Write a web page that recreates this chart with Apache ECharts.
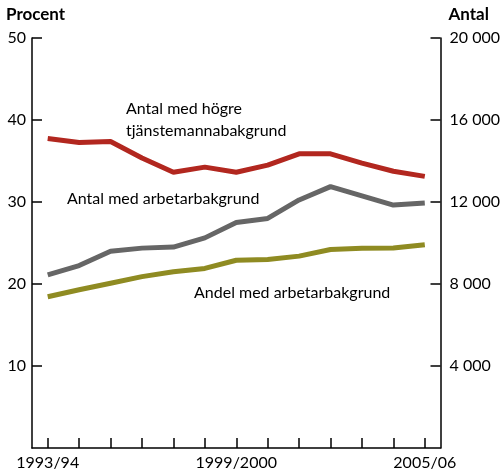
<!DOCTYPE html>
<html><head><meta charset="utf-8">
<script src="https://cdn.jsdelivr.net/npm/echarts@6/dist/echarts.min.js"></script>
<style>html,body{margin:0;padding:0;background:#fff}#c{width:503px;height:472px}</style>
</head><body><div id="c"></div>
<script>
const categories = ['1993/94','1994/95','1995/96','1996/97','1997/98','1998/99','1999/2000','2000/01','2001/02','2002/03','2003/04','2004/05','2005/06'];
const antalHogre = [15100, 14900, 14950, 14150, 13450, 13700, 13450, 13800, 14350, 14350, 13900, 13500, 13250];
const antalArbetar = [8450, 8900, 9600, 9750, 9800, 10250, 11000, 11200, 12100, 12750, 12300, 11850, 11950];
const andelArbetar = [18.45, 19.3, 20.1, 20.9, 21.5, 21.9, 22.9, 23.0, 23.4, 24.2, 24.35, 24.4, 24.8];
const leftTicks = [0, 50, 10];
const rightTicks = [0, 20000, 4000];

const FONT = 'Lato';
const chart = echarts.init(document.getElementById('c'), null, {renderer: 'canvas'});
const axisLine = {show: true, lineStyle: {color: '#000', width: 1.5}};
const tick = {show: true, inside: true, length: 10, lineStyle: {color: '#000', width: 1.5}};
function fmtThousands(v){ return String(v).replace(/\B(?=(\d{3})+(?!\d))/g, ' '); }
chart.setOption({
  animation: false,
  textStyle: {fontFamily: FONT},
  grid: {left: 32, right: 60, top: 38, bottom: 24, containLabel: false},
  xAxis: {
    type: 'category', data: categories, boundaryGap: true,
    axisLine: axisLine,
    axisTick: {show: true, inside: true, length: 10, alignWithLabel: true, interval: 0, lineStyle: {color: '#000', width: 1.5}},
    axisLabel: {interval: 5, color: '#000', fontSize: 16, fontFamily: FONT, margin: 7}
  },
  yAxis: [
    {type: 'value', min: leftTicks[0], max: leftTicks[1], interval: leftTicks[2], position: 'left',
     name: 'Procent', nameLocation: 'end', nameGap: 15,
     nameTextStyle: {fontWeight: 'bold', fontSize: 17, color: '#000', align: 'left', padding: [0,0,0,-26], fontFamily: FONT},
     axisLine: axisLine, axisTick: tick, splitLine: {show: false},
     axisLabel: {showMinLabel: false, color: '#000', fontSize: 16, fontFamily: FONT, margin: 6}},
    {type: 'value', min: rightTicks[0], max: rightTicks[1], interval: rightTicks[2], position: 'right',
     name: 'Antal', nameLocation: 'end', nameGap: 15,
     nameTextStyle: {fontWeight: 'bold', fontSize: 17, color: '#000', align: 'left', padding: [0,0,0,8], fontFamily: FONT},
     axisLine: axisLine, axisTick: tick, splitLine: {show: false},
     axisLabel: {showMinLabel: false, color: '#000', fontSize: 16, fontFamily: FONT, margin: 9, formatter: fmtThousands}}
  ],
  series: [
    {name: 'Antal med högre tjänstemannabakgrund', type: 'line', yAxisIndex: 1, data: antalHogre,
     symbol: 'none', lineStyle: {color: '#b2271f', width: 5}, itemStyle: {color: '#b2271f'}},
    {name: 'Antal med arbetarbakgrund', type: 'line', yAxisIndex: 1, data: antalArbetar,
     symbol: 'none', lineStyle: {color: '#666666', width: 5}, itemStyle: {color: '#666666'}},
    {name: 'Andel med arbetarbakgrund', type: 'line', yAxisIndex: 0, data: andelArbetar,
     symbol: 'none', lineStyle: {color: '#8f8b22', width: 5}, itemStyle: {color: '#8f8b22'}}
  ],
  graphic: [
    {type: 'text', left: 126, top: 98, style: {text: 'Antal med högre\ntjänstemannabakgrund', font: '16px ' + FONT, fill: '#000', lineHeight: 22}},
    {type: 'text', left: 67, top: 191, style: {text: 'Antal med arbetarbakgrund', font: '16px ' + FONT, fill: '#000'}},
    {type: 'text', left: 194, top: 285, style: {text: 'Andel med arbetarbakgrund', font: '16px ' + FONT, fill: '#000'}}
  ]
});
</script></body></html>
